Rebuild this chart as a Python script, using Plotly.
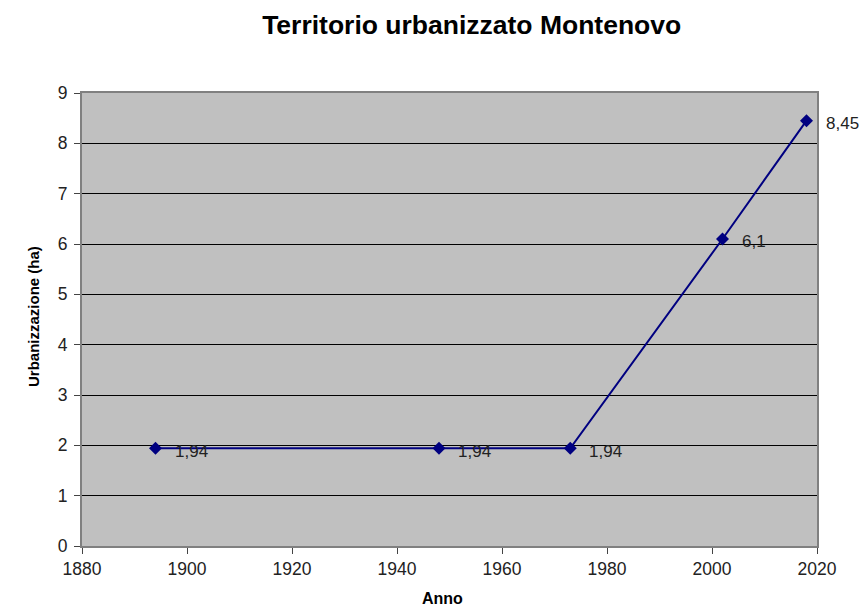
import plotly.graph_objects as go

# Urbanised area of Montenovo over time
anni = [1894, 1948, 1973, 2002, 2018]
ettari = [1.94, 1.94, 1.94, 6.1, 8.45]

x_ticks = [1880, 1900, 1920, 1940, 1960, 1980, 2000, 2020]
y_ticks = list(range(0, 10))

navy = "#000080"
font_family = "Liberation Sans, Arial, sans-serif"

W, H = 865, 610
M_L, M_R, M_T, M_B = 82, 48, 93, 64
PLOT_W = W - M_L - M_R
PLOT_H = H - M_T - M_B


def etichetta(v):
    # Italian decimal format: comma separator, no trailing zeros
    return ("%g" % v).replace(".", ",")


fig = go.Figure()
fig.add_trace(go.Scatter(
    x=anni,
    y=ettari,
    mode="lines+markers",
    line=dict(color=navy, width=2),
    marker=dict(symbol="diamond", size=10, color=navy),
    showlegend=False,
    hoverinfo="x+y",
))

for a, v in zip(anni, ettari):
    fig.add_annotation(
        x=a, y=v, text=etichetta(v), showarrow=False,
        xanchor="left", yanchor="middle", xshift=17, yshift=-3,
        font=dict(family=font_family, size=17, color="#222222"),
    )

# axis titles placed in pixel terms around the plot area
fig.add_annotation(
    text="<b>Anno</b>", showarrow=False,
    xref="paper", yref="paper",
    x=(442.5 - M_L) / PLOT_W, y=-(H - 1 - (H - M_B)) / PLOT_H,
    xanchor="center", yanchor="bottom",
    font=dict(family=font_family, size=16, color="#000000"),
)
fig.add_annotation(
    text="<b>Urbanizzazione (ha)</b>", showarrow=False, textangle=-90,
    xref="paper", yref="paper",
    x=(33 - M_L) / PLOT_W, y=((H - M_B) - 317) / PLOT_H,
    xanchor="center", yanchor="middle",
    font=dict(family=font_family, size=15, color="#000000"),
)

axis_common = dict(
    showline=True, linecolor="#808080", linewidth=2, mirror=True,
    ticks="outside", ticklen=6, tickcolor="#444444", tickwidth=1,
    tickfont=dict(family=font_family, size=17.5, color="#222222"),
    zeroline=False, automargin=False,
)

fig.update_layout(
    width=W, height=H,
    margin=dict(l=M_L, r=M_R, t=M_T, b=M_B),
    paper_bgcolor="white",
    plot_bgcolor="#C0C0C0",
    font=dict(family=font_family, color="#000000"),
    title=dict(
        text="<b>Territorio urbanizzato Montenovo</b>",
        x=471.7 / W, xref="container", xanchor="center",
        y=1 - 25 / H, yref="container", yanchor="middle",
        font=dict(family=font_family, size=26.5, color="#000000"),
    ),
    xaxis=dict(
        range=[1880, 2020], tickvals=x_ticks, showgrid=False,
        **axis_common,
    ),
    yaxis=dict(
        range=[0, 9], tickvals=y_ticks, showgrid=True, gridcolor="#000000", gridwidth=1,
        ticklabelstandoff=3,
        **axis_common,
    ),
)

fig.write_html("out.html")
